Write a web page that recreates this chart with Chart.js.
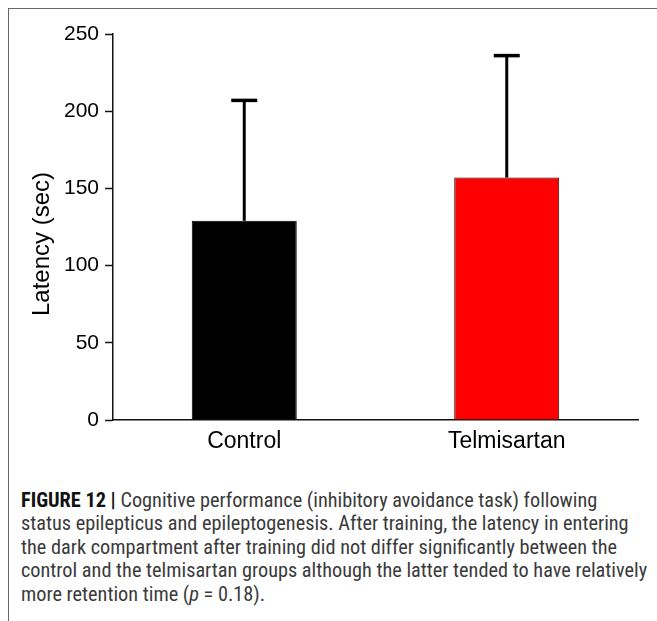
<!DOCTYPE html>
<html>
<head>
<meta charset="utf-8">
<script src="https://cdn.jsdelivr.net/npm/chart.js@4/dist/chart.umd.min.js"></script>
<style>
  html, body { margin: 0; padding: 0; background: #fff; }
  body { width: 657px; height: 621px; position: relative; overflow: hidden; }
  #frame { position: absolute; left: 8px; top: 8px; right: 0; bottom: 0;
           border-left: 1px solid #666; border-top: 1px solid #666; }
  #chart { position: absolute; left: 0; top: 0; }
  #caption { position: absolute; left: 21px; top: 488.5px; width: 640px;
             font-family: "Liberation Sans Narrow", "Arial Narrow", "Roboto Condensed", "Liberation Sans", sans-serif;
             font-size: 20.3px; line-height: 23.5px; color: #3a3a3a; white-space: nowrap; }
  #caption b { color: #111; }
</style>
</head>
<body>
<div id="frame"></div>
<canvas id="chart" width="657" height="460"></canvas>
<div id="caption">
  <b>FIGURE 12 |</b> Cognitive performance (inhibitory avoidance task) following<br>
  status epilepticus and epileptogenesis. After training, the latency in entering<br>
  the dark compartment after training did not differ significantly between the<br>
  control and the telmisartan groups although the latter tended to have relatively<br>
  more retention time (<i>p</i> = 0.18).
</div>
<script>
// Groups, mean latency and upper error (SD) in seconds
const groups = ['Control', 'Telmisartan'];
const meanLatency = [129, 157];
const errorSD = [78, 79];
const barColors = ['#000000', '#fe0000'];
const yTicks = [0, 50, 100, 150, 200, 250];

// One-sided error bars drawn above each bar
const errorBars = {
  id: 'errorBars',
  afterDatasetsDraw(chart) {
    const ctx = chart.ctx;
    const meta = chart.getDatasetMeta(0);
    const y = chart.scales.y;
    ctx.save();
    ctx.strokeStyle = '#000';
    ctx.lineCap = 'butt';
    meta.data.forEach((bar, i) => {
      const x = bar.x;
      const yBase = y.getPixelForValue(meanLatency[i]);
      const yTop = y.getPixelForValue(meanLatency[i] + errorSD[i]);
      ctx.lineWidth = 3;
      ctx.beginPath();
      ctx.moveTo(x, yBase);
      ctx.lineTo(x, yTop);
      ctx.stroke();
      ctx.lineWidth = 3.5;
      ctx.beginPath();
      ctx.moveTo(x - 13, yTop);
      ctx.lineTo(x + 13, yTop);
      ctx.stroke();
    });
    ctx.restore();
  }
};

// Rotated y-axis title
const yTitle = {
  id: 'yTitle',
  afterDraw(chart) {
    const ctx = chart.ctx;
    ctx.save();
    ctx.translate(42, 244);
    ctx.rotate(-Math.PI / 2);
    ctx.font = '24px "Liberation Sans", Arial, sans-serif';
    ctx.fillStyle = '#000';
    ctx.textAlign = 'center';
    ctx.textBaseline = 'middle';
    ctx.fillText('Latency (sec)', 0, 0);
    ctx.restore();
  }
};

new Chart(document.getElementById('chart'), {
  type: 'bar',
  data: {
    labels: groups,
    datasets: [{
      data: meanLatency,
      backgroundColor: barColors,
      borderColor: '#000',
      borderWidth: 1,
      barPercentage: 0.8,
      categoryPercentage: 0.5
    }]
  },
  options: {
    responsive: false,
    animation: false,
    events: [],
    layout: { padding: { left: 0, right: 19, top: 34, bottom: 0 } },
    plugins: { legend: { display: false }, tooltip: { enabled: false } },
    scales: {
      x: {
        grid: { display: true, drawOnChartArea: false, drawTicks: false },
        border: { display: true, color: '#111', width: 1.5 },
        ticks: {
          color: '#000', padding: 8,
          font: { family: '"Liberation Sans", Arial, sans-serif', size: 23 }
        },
        afterFit(scale) { scale.height = 40; }
      },
      y: {
        min: 0, max: 250,
        afterBuildTicks(scale) { scale.ticks = yTicks.map(v => ({ value: v })); },
        grid: { drawOnChartArea: false, drawTicks: true, tickLength: 8, tickColor: '#111', tickWidth: 1.5 },
        border: { display: true, color: '#111', width: 1.5 },
        ticks: {
          color: '#000', padding: 6,
          font: { family: '"Liberation Sans", Arial, sans-serif', size: 21 }
        },
        afterFit(scale) { scale.width = 113; }
      }
    }
  },
  plugins: [errorBars, yTitle]
});
</script>
</body>
</html>
